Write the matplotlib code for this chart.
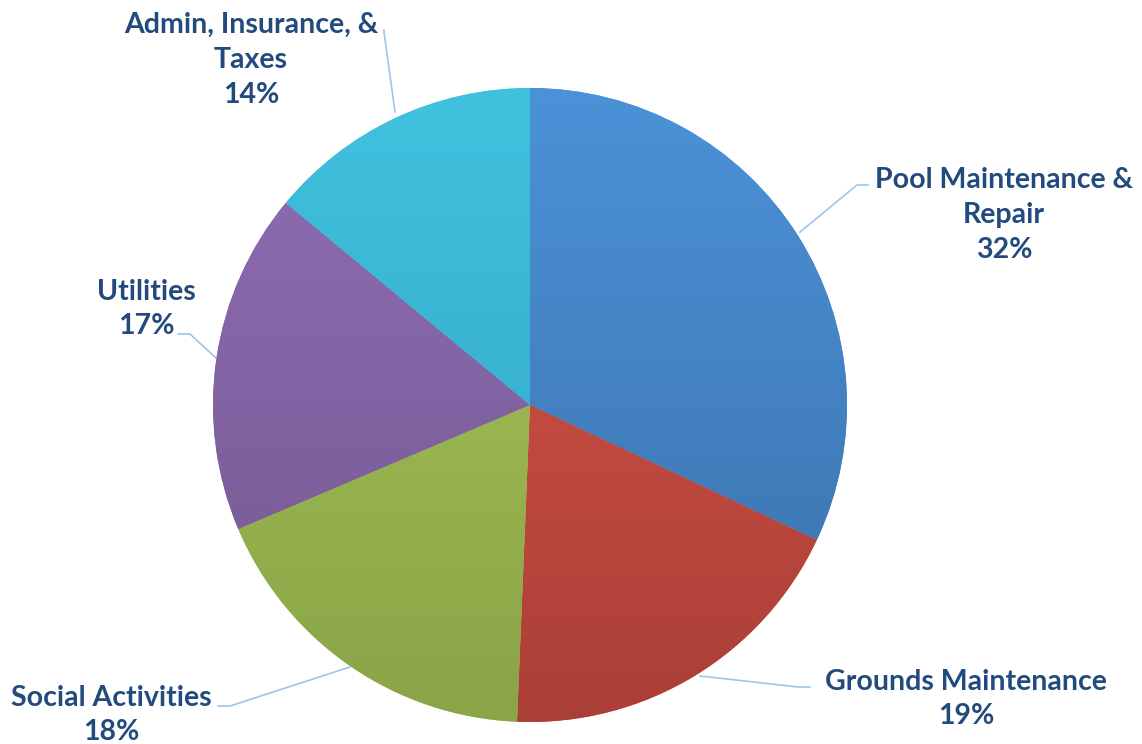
import matplotlib
matplotlib.use("Agg")
import matplotlib.pyplot as plt
import numpy as np
from matplotlib.colors import LinearSegmentedColormap

categories = ["Pool Maintenance &\nRepair", "Grounds Maintenance", "Social Activities",
              "Utilities", "Admin, Insurance, &\nTaxes"]
values = [32.0, 18.65, 17.95, 17.4, 14.0]
pct_labels = ["32%", "19%", "18%", "17%", "14%"]
top_colors = ["#4b92d8", "#db564b", "#a8c85b", "#8f6eb5", "#40c2df"]
bottom_colors = ["#3b70a9", "#aa3f37", "#8aa446", "#74578f", "#31a3c2"]

W, H = 1142, 744
fig = plt.figure(figsize=(W / 100, H / 100), dpi=100)
ax = fig.add_axes([0, 0, 1, 1])

cx, cy, R = 530, H - 405, 317
wedges, _ = ax.pie(values, startangle=90, counterclock=False, radius=R,
                   center=(cx, cy), colors=top_colors,
                   wedgeprops=dict(linewidth=0))
ax.set_xlim(0, W)
ax.set_ylim(0, H)
ax.set_aspect("equal")
ax.axis("off")

grad = np.linspace(1, 0, 256).reshape(-1, 1)
for w, ct, cb in zip(wedges, top_colors, bottom_colors):
    cmap = LinearSegmentedColormap.from_list("g", [cb, ct])
    im = ax.imshow(grad, cmap=cmap, extent=(cx - R, cx + R, cy - R, cy + R),
                   aspect="auto", zorder=2, origin="upper")
    im.set_clip_path(w)

text_color = "#234a7c"
line_color = "#9fc4ea"
font = dict(family="Lato", weight="bold", fontsize=20.5, color=text_color,
            ha="center", va="center", linespacing=1.42)

label_pos = [(1004, 215), (966, 699), (111, 715), (146, 309), (251, 60)]
for cat, pct, (x, y) in zip(categories, pct_labels, label_pos):
    ax.text(x, H - y, cat + "\n" + pct, **font)

leaders = [
    [(868, 185), (857, 185), (800, 232)],
    [(810, 687), (798, 687), (700, 676)],
    [(218, 706), (230, 706), (350, 667)],
    [(178, 334), (190, 334), (216, 358)],
    [(384, 30), (384, 32), (395, 112)],
]
for pts in leaders:
    xs = [p[0] for p in pts]
    ys = [H - p[1] for p in pts]
    ax.plot(xs, ys, color=line_color, lw=1.2, zorder=1)

fig.savefig("out.png", dpi=100)
